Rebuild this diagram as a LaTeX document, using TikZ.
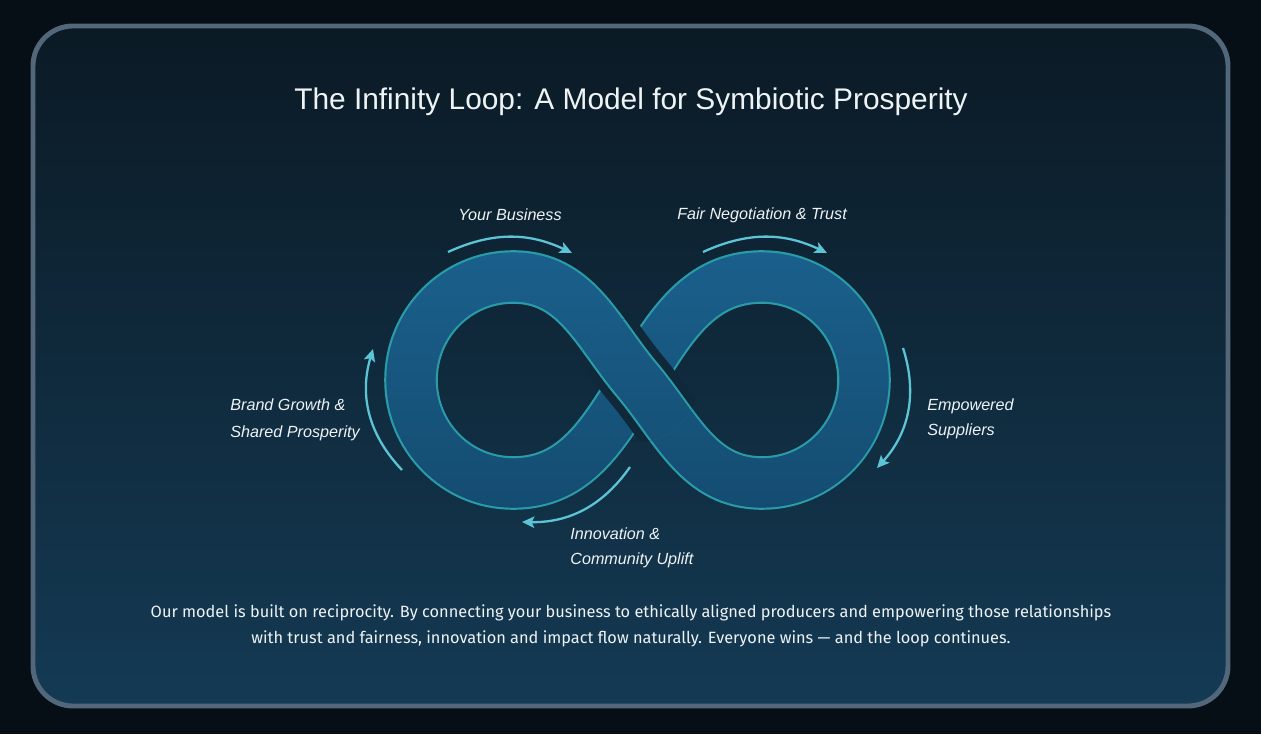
\documentclass[tikz,border=0pt]{standalone}
\usepackage{fontspec}
\setmainfont{Liberation Sans}
\newfontfamily\bodyfont{Fira Sans}
\usetikzlibrary{arrows.meta,positioning,fadings}
\definecolor{pagebg}{HTML}{060E16}
\definecolor{cardtop}{HTML}{0B1A25}
\definecolor{cardbot}{HTML}{143A54}
\definecolor{cardrim}{HTML}{52687A}
\definecolor{bandblue}{HTML}{1B6390}
\definecolor{banddeep}{HTML}{144A6E}
\definecolor{bandrim}{HTML}{2A9CA8}
\definecolor{flowcol}{HTML}{5CC4D4}
\definecolor{gapcol}{HTML}{0F283A}
\definecolor{txt}{HTML}{EEF3F6}
\begin{document}
\begin{tikzpicture}[
  x=0.02cm,y=0.02cm,
  lbl/.style={font=\itshape\fontsize{9.2}{14}\selectfont,text=txt,align=left,inner sep=0pt},
  flowarr/.style={draw=flowcol,line width=1.3pt,-{Stealth[length=7pt,width=6.5pt,inset=1.5pt]}},
  bandrimline/.style={draw=bandrim,line width=30.5pt},
  bandfill/.style={draw=bandblue,line width=28pt},
  bandshade/.style={draw=banddeep,line width=28pt,path fading=north},
  gapline/.style={draw=gapcol,line width=40pt}
]
\fill[pagebg] (0,0) rectangle (1261,734);
\useasboundingbox (0,0) rectangle (1261,734);
\shade[top color=cardtop,bottom color=cardbot,rounded corners=0.8cm] (33,28) rectangle (1228,708);
\draw[cardrim,line width=2.8pt,rounded corners=0.8cm] (33,28) rectangle (1228,708);

\node[font=\fontsize{17}{20}\selectfont,text=txt] (title) at (631,632) {The Infinity Loop: A Model for Symbiotic Prosperity};

% centre line of the loop
\coordinate (mid) at (637,354);
\coordinate (ltop) at (513,457);
\coordinate (lend) at (411,354);
\coordinate (lbot) at (513,251);
\coordinate (rtop) at (762,457);
\coordinate (rend) at (864,354);
\coordinate (rbot) at (762,251);
% same box for both fadings
\coordinate (fadesw) at (380,220);
\coordinate (fadene) at (900,490);

\foreach \sty in {bandrimline,bandfill,bandshade}
  \draw[\sty] (fadesw) (fadene)
    (mid) to[out=-50,in=180] (rbot) to[out=0,in=-90] (rend) to[out=90,in=0] (rtop)
    to[out=180,in=58] (mid) to[out=238,in=0] (lbot) to[out=180,in=-90] (lend)
    to[out=90,in=180] (ltop) to[out=0,in=130] (mid);

% over strand at the crossing
\begin{scope}
\clip (mid) circle (62);
\draw[gapline] (ltop) to[out=0,in=130] (mid) to[out=-50,in=180] (rbot);
\foreach \sty in {bandrimline,bandfill,bandshade}
  \draw[\sty] (fadesw) (fadene) (ltop) to[out=0,in=130] (mid) to[out=-50,in=180] (rbot);
\end{scope}

% labels
\node[lbl] (biz) at (510,519) {Your Business};
\node[lbl] (fair) at (762,519) {Fair Negotiation \& Trust};
\node[lbl,anchor=west] (supp) at (927,315) {Empowered\\Suppliers};
\node[lbl,anchor=west,font=\itshape\fontsize{9.2}{15.3}\selectfont] (brand) at (230,314) {Brand Growth \&\\Shared Prosperity};
\node[lbl,anchor=west] (innov) at (570,186) {Innovation \&\\Community Uplift};

% flow arrows
\coordinate (a1s) at (448,482);
\coordinate (a1e) at (572,481);
\coordinate (a2s) at (703,482);
\coordinate (a2e) at (827,481);
\coordinate (a3s) at (903,386);
\coordinate (a3e) at (877,266);
\coordinate (a4s) at (630,267);
\coordinate (a4e) at (522,212);
\coordinate (a5s) at (402,264);
\coordinate (a5e) at (373,385);
\draw[flowarr] (a1s) to[bend left=25] (a1e);
\draw[flowarr] (a2s) to[bend left=25] (a2e);
\draw[flowarr] (a3s) to[bend left=30] (a3e);
\draw[flowarr] (a4s) to[bend left=28] (a4e);
\draw[flowarr] (a5s) to[bend left=30] (a5e);

\node[font=\bodyfont\fontsize{9.3}{14.7}\selectfont,text=txt,align=center] (blurb) at (631,108)
  {Our model is built on reciprocity. By connecting your business to ethically aligned producers and empowering those relationships\\
   with trust and fairness, innovation and impact flow naturally. Everyone wins — and the loop continues.};
\end{tikzpicture}
\end{document}
